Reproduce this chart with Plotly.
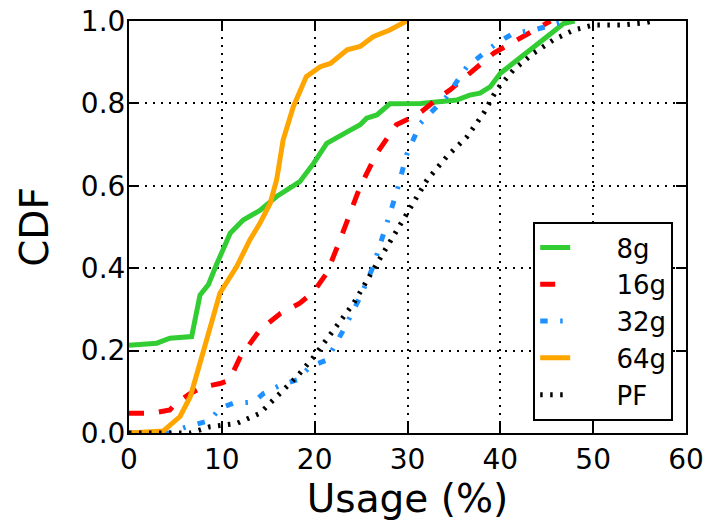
import plotly.graph_objects as go

# ---- data ----
names = ["8g", "16g", "32g", "64g", "PF"]

x_8g = [0, 3.0, 4.4, 6.75, 7.65, 8.55, 9.45, 10.2, 10.9, 12.3, 14.1, 15.9, 18.4, 19.9, 21.3, 23.5, 24.9, 25.6, 26.7, 28.1,
        31.4, 35.3, 36.7, 37.8, 38.9, 40.0, 41.4, 43.2, 44.6, 45.7, 46.8, 48.0]
y_8g = [0.213, 0.218, 0.23, 0.234, 0.335, 0.36, 0.41, 0.45, 0.485, 0.517, 0.54, 0.574, 0.61, 0.655, 0.703, 0.731, 0.748, 0.764, 0.772, 0.799,
        0.80, 0.808, 0.82, 0.825, 0.84, 0.873, 0.897, 0.93, 0.954, 0.974, 0.994, 1.0]

x_16g = [0, 2.5, 4.4, 5.1, 6.6, 8.0, 9.8, 10.8, 12.0, 14.1, 16.3, 18.4, 19.9, 21.3, 22.5, 24.9, 26.7, 28.1, 28.8, 30.6,
         31.5, 33.5, 34.6, 36.7, 39.3, 41.8, 44.3, 45.4]
y_16g = [0.048, 0.048, 0.056, 0.073, 0.096, 0.112, 0.12, 0.128, 0.185, 0.25, 0.29, 0.315, 0.343, 0.388, 0.455, 0.598, 0.679, 0.727, 0.748, 0.768,
         0.78, 0.816, 0.833, 0.873, 0.922, 0.954, 0.986, 1.0]

x_32g = [0, 4.3, 6.2, 8.7, 9.8, 11.2, 13.4, 14.5, 16.3, 18.1, 19.5, 21.3, 23.1, 24.9, 26.3, 27.4, 28.8, 29.9, 31.4, 34.2,
         36.4, 39.6, 41.4, 43.6, 46.1, 47.1]
y_32g = [0.0, 0.0, 0.015, 0.03, 0.06, 0.072, 0.075, 0.096, 0.116, 0.129, 0.161, 0.177, 0.25, 0.33, 0.404, 0.485, 0.582, 0.675, 0.752, 0.816,
         0.889, 0.946, 0.97, 0.978, 0.994, 1.0]

x_64g = [0, 3.7, 5.5, 6.6, 7.65, 8.7, 9.8, 11.6, 13.0, 14.1, 15.2, 15.9, 16.6, 17.7, 19.1, 20.6, 21.7, 23.5, 24.9, 26.3,
         28.1, 29.9]
y_64g = [0.0, 0.005, 0.04, 0.088, 0.17, 0.258, 0.34, 0.404, 0.468, 0.509, 0.557, 0.614, 0.711, 0.792, 0.865, 0.889, 0.897, 0.93, 0.938, 0.962,
         0.978, 1.0]

x_pf = [0, 6.6, 8.7, 11.6, 14.1, 16.3, 18.1, 19.9, 22.0, 24.2, 26.3, 28.1, 29.8, 31.0, 32.1, 34.2, 36.4, 38.2, 39.6, 41.4,
        43.6, 45.7, 47.9, 50.0, 52.9, 55.4, 56.5]
y_pf = [0.0, 0.0, 0.015, 0.023, 0.048, 0.096, 0.137, 0.185, 0.25, 0.315, 0.396, 0.465, 0.53, 0.574, 0.614, 0.67, 0.719, 0.776, 0.833, 0.881,
        0.922, 0.954, 0.978, 0.99, 0.99, 0.995, 1.0]

x_ticks = [0, 10, 20, 30, 40, 50, 60]
y_ticks = [0.0, 0.2, 0.4, 0.6, 0.8, 1.0]

series = [
    (names[0], x_8g, y_8g, "#32CD32", "solid"),
    (names[1], x_16g, y_16g, "#FF0000", "15px,15px"),
    (names[2], x_32g, y_32g, "#1E90FF", "7.5px,12.5px,2.5px,12.5px"),
    (names[3], x_64g, y_64g, "#FFA500", "solid"),
    (names[4], x_pf, y_pf, "#000000", "2.5px,7.5px"),
]

FONT = "DejaVu Sans"

fig = go.Figure()
for name, xs, ys, color, dash in series:
    fig.add_trace(go.Scatter(
        x=xs, y=ys, mode="lines", name="\u00a0\u00a0\u00a0\u00a0\u00a0" + name,
        line=dict(color=color, width=5, dash=dash),
    ))

axis_common = dict(
    showline=True, linecolor="black", linewidth=2, mirror="ticks",
    ticks="inside", ticklen=10, tickwidth=1.5, tickcolor="black",
    showgrid=True, gridcolor="black", gridwidth=1.5, griddash="2px,6px",
    zeroline=False, automargin=False,
    tickfont=dict(family=FONT, size=28, color="black"),
)

fig.update_xaxes(
    range=[0, 60], tickvals=x_ticks, ticktext=[str(v) for v in x_ticks],
    title=dict(text="Usage (%)", font=dict(family=FONT, size=39, color="black"), standoff=4),
    **axis_common,
)
fig.update_yaxes(
    range=[0, 1], tickvals=y_ticks, ticktext=[f"{v:.1f}" for v in y_ticks],
    ticklabelstandoff=-4,
    title=dict(text="CDF", font=dict(family=FONT, size=39, color="black"), standoff=20),
    **axis_common,
)

fig.update_layout(
    width=720, height=527,
    margin=dict(l=129, r=34, t=21, b=94, autoexpand=False),
    paper_bgcolor="white", plot_bgcolor="white",
    font=dict(family=FONT, color="black"),
    showlegend=True,
    legend=dict(
        x=0.977, y=0.029, xanchor="right", yanchor="bottom",
        bgcolor="white", bordercolor="black", borderwidth=2,
        font=dict(family=FONT, size=26, color="black"),
        itemwidth=30,
    ),
)

fig.write_html(
    "out.html",
    config={"displayModeBar": False},
    post_script="document.body.style.margin='0px';document.body.style.padding='0px';",
)
